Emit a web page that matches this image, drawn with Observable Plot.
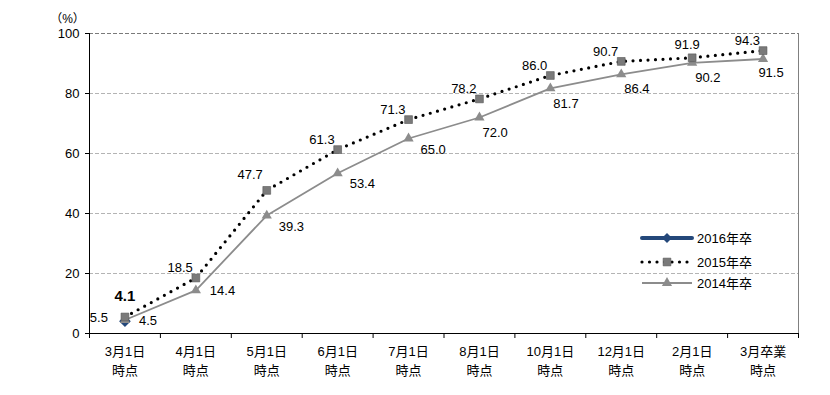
<!DOCTYPE html>
<html><head><meta charset="utf-8">
<script src="https://cdn.jsdelivr.net/npm/d3@7"></script>
<script src="https://cdn.jsdelivr.net/npm/@observablehq/plot@0.6"></script>
<style>
body{margin:0;background:#fff}
#wrap{position:relative;width:830px;height:395px;font-family:'Liberation Sans','Noto Sans CJK JP',sans-serif}
#legend{position:absolute;left:630px;top:225px}
</style>
</head><body><div id="wrap"></div>
<script>
const categories = ["3月1日","4月1日","5月1日","6月1日","7月1日","8月1日","10月1日","12月1日","2月1日","3月卒業"];
const subLabels = ["時点","時点","時点","時点","時点","時点","時点","時点","時点","時点"];
const series2016 = [4.1];
const series2015 = [5.5,18.5,47.7,61.3,71.3,78.2,86.0,90.7,91.9,94.3];
const series2014 = [4.5,14.4,39.3,53.4,65.0,72.0,81.7,86.4,90.2,91.5];
const yTicks = [0,20,40,60,80,100];
const seriesNames = ["2016年卒","2015年卒","2014年卒"];
const yUnit = "（%）";

const c2016 = "#24487a", c2015 = "#000000", c2014 = "#8c8c8c", m2015 = "#7a7a7a";
const toRows = arr => arr.map((v,i)=>({i, v}));
const d2016 = toRows(series2016), d2015 = toRows(series2015), d2014 = toRows(series2014);
const fmt = d3.format(".1f");
const pick = (rows, idx) => rows.filter(r => idx.includes(r.i));
const lbl = (rows, idx, o) => Plot.text(pick(rows, idx), {x:"i", y:"v", text:d=>fmt(d.v), fill:"#000", fontSize:13, ...o});
const idx = d3.range(categories.length);
const bounds = d3.range(categories.length + 1).map(i => i - 0.5);

const chart = Plot.plot({
  width: 830, height: 395,
  marginLeft: 89, marginRight: 32, marginTop: 33, marginBottom: 62,
  style: {fontFamily: "'Liberation Sans','Noto Sans CJK JP',sans-serif", fontSize: "13px", background: "#fff", color: "#000"},
  x: {type: "linear", domain: [-0.5, categories.length - 0.5], axis: null},
  y: {domain: [0, 100], axis: null},
  marks: [
    Plot.ruleY(yTicks.filter(t => t > 0 && t < 100), {stroke: "#b4b4b4", strokeDasharray: "4,2"}),
    Plot.ruleY([100], {stroke: "#7a7a7a", strokeDasharray: "4,2"}),
    Plot.ruleX([categories.length - 0.5], {stroke: "#808080"}),
    Plot.ruleY([0], {stroke: "#000"}),
    Plot.ruleX([-0.5], {stroke: "#000"}),
    Plot.axisY(yTicks, {tickSize: 4, tickPadding: 6, label: null, fontSize: 13}),
    Plot.axisX(bounds, {tickSize: 5, tickFormat: () => "", label: null}),
    Plot.axisX(idx, {tickSize: 0, tickPadding: 13, tickFormat: i => categories[i], label: null, fontSize: 13}),
    Plot.axisX(idx, {tickSize: 0, tickPadding: 32, tickFormat: i => subLabels[i], label: null, fontSize: 13}),
    Plot.text([yUnit], {frameAnchor: "top-left", dx: -22, dy: -19, textAnchor: "middle", fontSize: 12}),
    Plot.line(d2014, {x: "i", y: "v", stroke: c2014, strokeWidth: 1.8}),
    Plot.line(d2015, {x: "i", y: "v", stroke: c2015, strokeWidth: 3.2, strokeDasharray: "0 7.5", strokeLinecap: "round"}),
    Plot.dot(d2016, {x: "i", y: "v", symbol: "diamond2", r: 4.3, fill: c2016, stroke: c2016}),
    Plot.dot(d2014, {x: "i", y: "v", symbol: "triangle", r: 3.8, fill: c2014}),
    Plot.dot(d2015, {x: "i", y: "v", symbol: "square", r: 4.4, fill: m2015, stroke: "#555", strokeWidth: 0.6}),
    // 2015 labels
    lbl(d2015, [0], {textAnchor: "end", dx: -17, dy: 1}),
    lbl(d2015, [1,3,4,5,6,7,9], {textAnchor: "end", dx: -3, dy: -10}),
    lbl(d2015, [2], {textAnchor: "end", dx: -4, dy: -16}),
    lbl(d2015, [8], {textAnchor: "middle", dx: -5, dy: -13}),
    // 2014 labels
    lbl(d2014, [0,1], {textAnchor: "start", dx: 14, dy: 1}),
    lbl(d2014, [2,3,4], {textAnchor: "start", dx: 12, dy: 11}),
    lbl(d2014, [5,6,7,8], {textAnchor: "start", dx: 3, dy: 15}),
    lbl(d2014, [9], {textAnchor: "middle", dx: 8, dy: 14}),
    // 2016 label
    lbl(d2016, [0], {textAnchor: "middle", dy: -25, fontSize: 15, fontWeight: "bold"})
  ]
});
const wrap = document.getElementById("wrap");
wrap.appendChild(chart);

// legend overlay
const lg = d3.select(wrap).append("svg").attr("id","legend").attr("width",170).attr("height",70);
const ys = [13, 37, 58];
const lx1 = 12, lx2 = 62, lmx = 37;
// 2016
lg.append("line").attr("x1",lx1).attr("x2",lx2).attr("y1",ys[0]).attr("y2",ys[0]).attr("stroke",c2016).attr("stroke-width",4).attr("stroke-linecap","round");
lg.append("path").attr("d", d3.symbol(d3.symbolSquare, 50)()).attr("transform",`translate(${lmx},${ys[0]}) rotate(45)`).attr("fill",c2016);
// 2015
lg.append("line").attr("x1",lx1).attr("x2",lx2).attr("y1",ys[1]).attr("y2",ys[1]).attr("stroke",c2015).attr("stroke-width",3.2).attr("stroke-dasharray","0 7.5").attr("stroke-linecap","round");
lg.append("path").attr("d", d3.symbol(d3.symbolSquare, 60)()).attr("transform",`translate(${lmx},${ys[1]})`).attr("fill",m2015).attr("stroke","#555").attr("stroke-width",0.6);
// 2014
lg.append("line").attr("x1",lx1).attr("x2",lx2).attr("y1",ys[2]).attr("y2",ys[2]).attr("stroke",c2014).attr("stroke-width",1.8);
lg.append("path").attr("d", d3.symbol(d3.symbolTriangle, 45)()).attr("transform",`translate(${lmx},${ys[2]})`).attr("fill",c2014);
seriesNames.forEach((n,k) => {
  lg.append("text").attr("x", 67).attr("y", ys[k]).attr("dy","0.35em").attr("font-size",13)
    .attr("font-family","'Liberation Sans','Noto Sans CJK JP',sans-serif").attr("fill","#000").text(n);
});
</script>
</body></html>
